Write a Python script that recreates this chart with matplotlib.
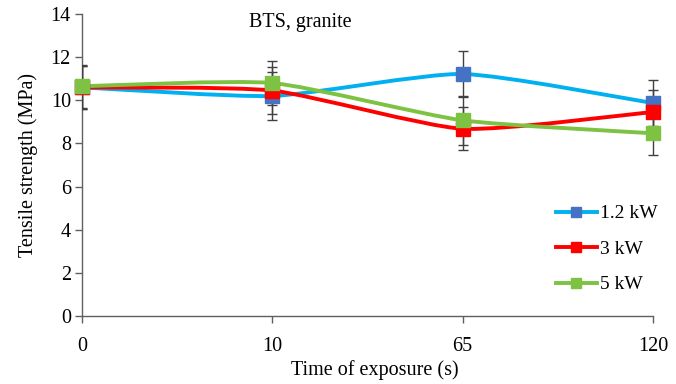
import matplotlib
matplotlib.use("Agg")
import matplotlib.pyplot as plt
from matplotlib.path import Path
from matplotlib.patches import PathPatch, Rectangle
from matplotlib.lines import Line2D
import numpy as np

plt.rcParams['font.family'] = ['Liberation Serif', 'DejaVu Serif']

categories = ["0", "10", "65", "120"]
series_names = ["1.2 kW", "3 kW", "5 kW"]
v_12kw = [10.6, 10.2, 11.22, 9.87]
v_3kw = [10.6, 10.45, 8.68, 9.46]
v_5kw = [10.65, 10.8, 9.07, 8.47]
err_12kw = [1.0, 1.1, 1.08, 1.07]
err_3kw = [1.0, 1.08, 1.0, 1.0]
err_5kw = [1.0, 1.0, 1.15, 1.0]

values = [v_12kw, v_3kw, v_5kw]
errors = [err_12kw, err_3kw, err_5kw]
line_colors = ['#00B0F0', '#FF0000', '#7DC242']
marker_colors = ['#4472C4', '#FF0000', '#7DC242']

fig = plt.figure(figsize=(6.76, 3.84), dpi=100)
ax = fig.add_axes([82/676, 1 - 316/384, (653-82)/676, (316-14)/384])

x = np.arange(len(categories))


def smooth_path(xs, ys, k=1/10):
    pts = np.column_stack([xs, ys]).astype(float)
    n = len(pts)
    verts = [pts[0]]
    codes = [Path.MOVETO]
    for i in range(n - 1):
        p0 = pts[i - 1] if i > 0 else pts[i]
        p1 = pts[i]
        p2 = pts[i + 1]
        p3 = pts[i + 2] if i + 2 < n else pts[i + 1]
        c1 = p1 + (p2 - p0) * k
        c2 = p2 - (p3 - p1) * k
        verts += [c1, c2, p2]
        codes += [Path.CURVE4] * 3
    return Path(verts, codes)


clip_rect = Rectangle((0, -0.2), 1.2, 1.4, transform=ax.transAxes,
                      facecolor='none', edgecolor='none')
ax.add_patch(clip_rect)

for vals, errs, lc, mc in zip(values, errors, line_colors, marker_colors):
    eb = ax.errorbar(x, vals, yerr=errs, fmt='none', ecolor='#404040',
                     elinewidth=1.0, capsize=3.6, capthick=1.0, zorder=3)
    for art in eb.get_children():
        art.set_clip_path(clip_rect)
    patch = PathPatch(smooth_path(x, vals), facecolor='none', edgecolor=lc,
                      lw=2.8, zorder=4, clip_on=False, capstyle='round')
    ax.add_patch(patch)
    ax.plot(x, vals, linestyle='none', marker='s', markersize=10,
            markerfacecolor=mc, markeredgecolor=mc, zorder=5, clip_on=False)

ax.set_xlim(0, 3)
ax.set_ylim(0, 14)
ax.set_yticks(np.arange(0, 15, 2))
ax.set_xticks(x)
ax.set_xticklabels(categories)

for s in ['top', 'right']:
    ax.spines[s].set_visible(False)
for s in ['left', 'bottom']:
    ax.spines[s].set_color('#606060')
    ax.spines[s].set_linewidth(1.0)
ax.tick_params(axis='both', colors='#606060', labelcolor='black',
               labelsize=14.5, length=5, width=1.0)
ax.tick_params(axis='x', pad=10)
ax.tick_params(axis='y', pad=3)

ax.set_xlabel('Time of exposure (s)', fontsize=14.5)
ax.xaxis.set_label_coords(0.512, -0.145)
ax.set_ylabel('Tensile strength (MPa)', fontsize=14.5, labelpad=9)

ax.text(0.88, 13.6, 'BTS, granite', fontsize=14.5, ha='left', va='center')

handles = [Line2D([0], [0], color=lc, lw=2.8, marker='s', markersize=7.5,
                  markerfacecolor=mc, markeredgecolor=mc)
           for lc, mc in zip(line_colors, marker_colors)]
ax.legend(handles, series_names, loc='center left',
          bbox_to_anchor=(556/676, 1 - 249/384), bbox_transform=fig.transFigure,
          frameon=False, fontsize=14, handlelength=2.1, labelspacing=0.92,
          handletextpad=0.15, borderpad=0, borderaxespad=0)

fig.savefig('out.png', dpi=100)
